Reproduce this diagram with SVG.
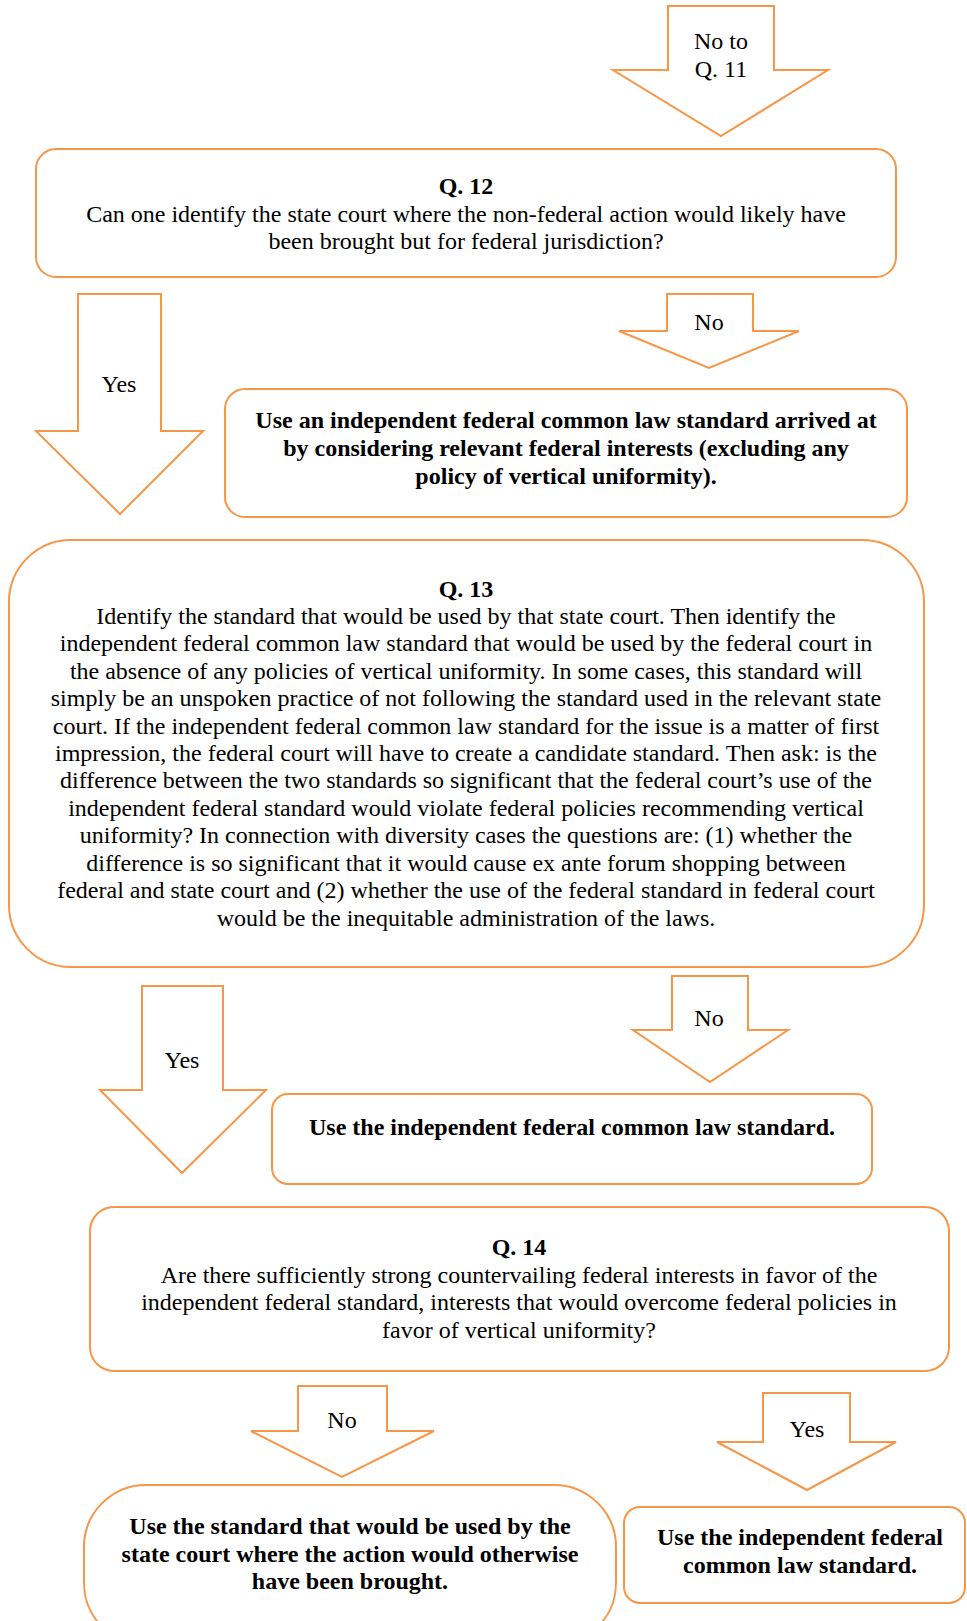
<svg xmlns="http://www.w3.org/2000/svg" width="967" height="1621" viewBox="0 0 967 1621">
<style>
.box{fill:#fff;stroke:#F79646;stroke-width:2}
.arr{fill:#fff;stroke:#F79646;stroke-width:2;stroke-linejoin:miter}
text{font-family:"Liberation Serif","Times New Roman",serif;font-size:24px;fill:#000;text-anchor:middle}
.b{font-weight:bold}
</style>
<rect width="967" height="1621" fill="#fff"/>
<g id="connectors">
<g id="arrow-no-q11"><polygon class="arr" points="668,6 774,6 774,70 828,70 721,136 613,70 668,70"/><text x="721" y="49">No to</text><text x="721" y="77">Q. 11</text></g>
<g id="arrow-q12-yes"><polygon class="arr" points="78,294 161,294 161,431 203,431 120,514 36,431 78,431"/><text x="119" y="392">Yes</text></g>
<g id="arrow-q12-no"><polygon class="arr" points="667,294 753,294 753,331 799,331 709,368 619,331 667,331"/><text x="709" y="330">No</text></g>
<g id="arrow-q13-yes"><polygon class="arr" points="142,986 223,986 223,1090 266,1090 182,1173 100,1090 142,1090"/><text x="182" y="1068">Yes</text></g>
<g id="arrow-q13-no"><polygon class="arr" points="672,976 748,976 748,1030 788,1030 710,1082 633,1030 672,1030"/><text x="709" y="1026">No</text></g>
<g id="arrow-q14-no"><polygon class="arr" points="298,1386 387,1386 387,1431 434,1431 342,1477 251,1431 298,1431"/><text x="342" y="1428">No</text></g>
<g id="arrow-q14-yes"><polygon class="arr" points="763,1393 850,1393 850,1442 896,1442 807,1490 717,1442 763,1442"/><text x="807" y="1437">Yes</text></g>
</g>
<g id="q12">
<rect class="box" x="36" y="149" width="860" height="128" rx="20"/>
<text class="b" x="466" y="194">Q. 12</text>
<text x="466" y="222">Can one identify the state court where the non-federal action would likely have</text>
<text x="466" y="249">been brought but for federal jurisdiction?</text>
</g>
<g id="result-independent-interests">
<rect class="box" x="225" y="389" width="682" height="128" rx="20"/>
<text class="b" x="566" y="428">Use an independent federal common law standard arrived at</text>
<text class="b" x="566" y="456">by considering relevant federal interests (excluding any</text>
<text class="b" x="566" y="484">policy of vertical uniformity).</text>
</g>
<g id="q13">
<rect class="box" x="9" y="540" width="915" height="427" rx="62"/>
<text class="b" x="466" y="597">Q. 13</text>
<text x="466" y="624">Identify the standard that would be used by that state court. Then identify the</text>
<text x="466" y="651">independent federal common law standard that would be used by the federal court in</text>
<text x="466" y="679">the absence of any policies of vertical uniformity. In some cases, this standard will</text>
<text x="466" y="706">simply be an unspoken practice of not following the standard used in the relevant state</text>
<text x="466" y="734">court. If the independent federal common law standard for the issue is a matter of first</text>
<text x="466" y="761">impression, the federal court will have to create a candidate standard. Then ask: is the</text>
<text x="466" y="788">difference between the two standards so significant that the federal court’s use of the</text>
<text x="466" y="816">independent federal standard would violate federal policies recommending vertical</text>
<text x="466" y="843">uniformity? In connection with diversity cases the questions are: (1) whether the</text>
<text x="466" y="871">difference is so significant that it would cause ex ante forum shopping between</text>
<text x="466" y="898">federal and state court and (2) whether the use of the federal standard in federal court</text>
<text x="466" y="926">would be the inequitable administration of the laws.</text>
</g>
<g id="result-independent-1">
<rect class="box" x="272" y="1094" width="600" height="90" rx="16"/>
<text class="b" x="572" y="1135">Use the independent federal common law standard.</text>
</g>
<g id="q14">
<rect class="box" x="90" y="1207" width="859" height="164" rx="24"/>
<text class="b" x="519" y="1255">Q. 14</text>
<text x="519" y="1283">Are there sufficiently strong countervailing federal interests in favor of the</text>
<text x="519" y="1310">independent federal standard, interests that would overcome federal policies in</text>
<text x="519" y="1338">favor of vertical uniformity?</text>
</g>
<g id="result-state-standard">
<rect class="box" x="84" y="1485" width="532" height="160" rx="62"/>
<text class="b" x="350" y="1534">Use the standard that would be used by the</text>
<text class="b" x="350" y="1562">state court where the action would otherwise</text>
<text class="b" x="350" y="1589">have been brought.</text>
</g>
<g id="result-independent-2">
<rect class="box" x="624" y="1507" width="341" height="96" rx="16"/>
<text class="b" x="800" y="1545">Use the independent federal</text>
<text class="b" x="800" y="1573">common law standard.</text>
</g>
</svg>
